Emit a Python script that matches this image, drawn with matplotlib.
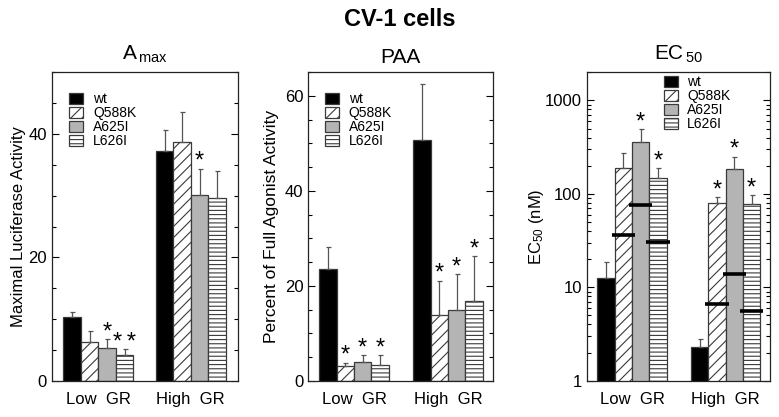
import matplotlib
matplotlib.use('Agg')
import matplotlib.pyplot as plt
import numpy as np
from matplotlib.ticker import MultipleLocator, LogLocator, NullFormatter, FixedLocator, FixedFormatter

plt.rcParams['font.family'] = ['Liberation Sans', 'DejaVu Sans']
plt.rcParams['mathtext.fontset'] = 'custom'
plt.rcParams['mathtext.rm'] = 'Liberation Sans'
plt.rcParams['mathtext.it'] = 'Liberation Sans'
plt.rcParams['mathtext.default'] = 'regular'
plt.rcParams['hatch.linewidth'] = 0.8

# ---------------- data ----------------
variants = ['wt', 'Q588K', 'A625I', 'L626I']
groups = ['Low  GR', 'High  GR']

amax_low = [10.3, 6.2, 5.3, 4.1]
amax_low_err = [0.8, 1.8, 1.4, 1.0]
amax_high = [37.3, 38.7, 30.1, 29.7]
amax_high_err = [3.3, 4.8, 4.3, 4.3]
amax_stars_low = ['', '', '*', '**']
amax_stars_high = ['', '', '*', '']

paa_low = [23.6, 3.2, 3.9, 3.4]
paa_low_err = [4.5, 0.6, 1.5, 2.0]
paa_high = [50.8, 13.9, 14.8, 16.9]
paa_high_err = [11.8, 7.2, 7.7, 9.4]
paa_stars_low = ['', '*', '*', '*']
paa_stars_high = ['', '*', '*', '*']

ec50_low = [12.5, 190, 358, 147]
ec50_low_err = [6.2, 85, 135, 43]
ec50_high = [2.3, 80, 185, 78]
ec50_high_err = [0.47, 12, 66, 19.5]
ec50_mark_low = [np.nan, 36, 76, 30.6]
ec50_mark_high = [np.nan, 6.6, 13.8, 5.6]
ec50_stars_low = ['', '', '*', '*']
ec50_stars_high = ['', '*', '*', '*']

# ---------------- styles ----------------
fills = ['black', 'white', '#b4b4b4', 'white']
hatches = [None, '///', None, '----']
edge = '#3a3a3a'

fig = plt.figure(figsize=(7.79, 4.17), dpi=100)

def make_ax(left_px, right_px):
    W, H = 779.0, 417.0
    top_px, bot_px = 72.3, 380.7
    return fig.add_axes([left_px / W, 1 - bot_px / H, (right_px - left_px) / W, (bot_px - top_px) / H])

def draw_panel(ax, low, low_err, high, high_err, st_low, st_high, gap, xlim, marks=None):
    handles = None
    for g, (vals, errs, stars) in enumerate([(low, low_err, st_low), (high, high_err, st_high)]):
        x = np.arange(4) + g * gap
        bars = ax.bar(x, vals, width=1.0, color=fills, edgecolor=edge, linewidth=0.9, zorder=2)
        for p, h in zip(bars, hatches):
            if h:
                p.set_hatch(h)
        if handles is None:
            handles = list(bars)
        ax.errorbar(x, vals, yerr=[np.zeros(4), errs], fmt='none', ecolor='#555555',
                    elinewidth=0.9, capsize=1.8, capthick=0.9, zorder=3)
        for xi, v, e, s in zip(x, vals, errs, stars):
            if s:
                ax.annotate('\u2009'.join(s), (xi, v + e), xytext=(0, 0.5), textcoords='offset points',
                            ha='center', va='baseline', fontsize=17, zorder=4)
        if marks is not None:
            m = marks[g]
            ax.hlines(m, x - 0.67, x + 0.67, colors='black', linewidth=2.6, zorder=4)
    ax.set_xlim(*xlim)
    ax.set_xticks([1.5, gap + 1.5])
    ax.set_xticklabels(groups, fontsize=12)
    ax.tick_params(axis='x', length=0, pad=8)
    ax.tick_params(axis='y', which='both', direction='in', left=True, right=True, labelsize=12)
    ax.tick_params(axis='y', which='major', length=5, width=0.8)
    ax.tick_params(axis='y', which='minor', length=3, width=0.8)
    for sp in ax.spines.values():
        sp.set_linewidth(0.9)
        sp.set_color('#222222')
    return handles

def add_legend(ax, handles, x_ax, y_ax):
    ax.legend(handles, variants, loc='upper left', bbox_to_anchor=(x_ax, y_ax), frameon=False,
              fontsize=10, handlelength=1.0, handleheight=0.86, labelspacing=0.0,
              handletextpad=0.7, borderpad=0, borderaxespad=0)

# Panel 1: Amax
ax1 = make_ax(51.7, 237.7)
h = draw_panel(ax1, amax_low, amax_low_err, amax_high, amax_high_err,
               amax_stars_low, amax_stars_high, 5.28, (-1.167, 9.46))
ax1.set_ylim(0, 50)
ax1.yaxis.set_major_locator(FixedLocator([0, 20, 40]))
ax1.yaxis.set_minor_locator(MultipleLocator(5))
ax1.set_ylabel('Maximal Luciferase Activity', fontsize=12)
ax1.yaxis.set_label_coords(-0.14, 0.5)
ax1.set_title(r'A$_{\,\mathrm{max}}$', fontsize=15, pad=9)
add_legend(ax1, h, 0.095, 0.935)

# Panel 2: PAA
ax2 = make_ax(308.3, 493.3)
h = draw_panel(ax2, paa_low, paa_low_err, paa_high, paa_high_err,
               paa_stars_low, paa_stars_high, 5.42, (-1.135, 9.54))
ax2.set_ylim(0, 65)
ax2.yaxis.set_major_locator(FixedLocator([0, 20, 40, 60]))
ax2.yaxis.set_minor_locator(MultipleLocator(5))
ax2.set_ylabel('Percent of Full Agonist Activity', fontsize=12.5)
ax2.yaxis.set_label_coords(-0.16, 0.5)
ax2.set_title('PAA', fontsize=15, pad=7)
add_legend(ax2, h, 0.09, 0.935)

# Panel 3: EC50
ax3 = make_ax(586.7, 770.0)
ax3.set_yscale('log')
h = draw_panel(ax3, ec50_low, ec50_low_err, ec50_high, ec50_high_err,
               ec50_stars_low, ec50_stars_high, 5.40, (-1.115, 9.46),
               marks=[ec50_mark_low, ec50_mark_high])
ax3.set_ylim(1, 2000)
ax3.yaxis.set_major_locator(FixedLocator([1, 10, 100, 1000]))
ax3.yaxis.set_major_formatter(FixedFormatter(['1', '10', '100', '1000']))
ax3.yaxis.set_minor_locator(LogLocator(base=10, subs=np.arange(2, 10)))
ax3.yaxis.set_minor_formatter(NullFormatter())
ax3.set_ylabel(r'EC$_{50}$ (nM)', fontsize=12)
ax3.yaxis.set_label_coords(-0.22, 0.5)
ax3.set_title(r'EC$_{\,50}$', fontsize=15, pad=9)
add_legend(ax3, h, 0.42, 0.99)

fig.text(0.513, 0.954, 'CV-1 cells', ha='center', va='center', fontsize=17, fontweight='bold')

fig.savefig('out.png', dpi=100)
